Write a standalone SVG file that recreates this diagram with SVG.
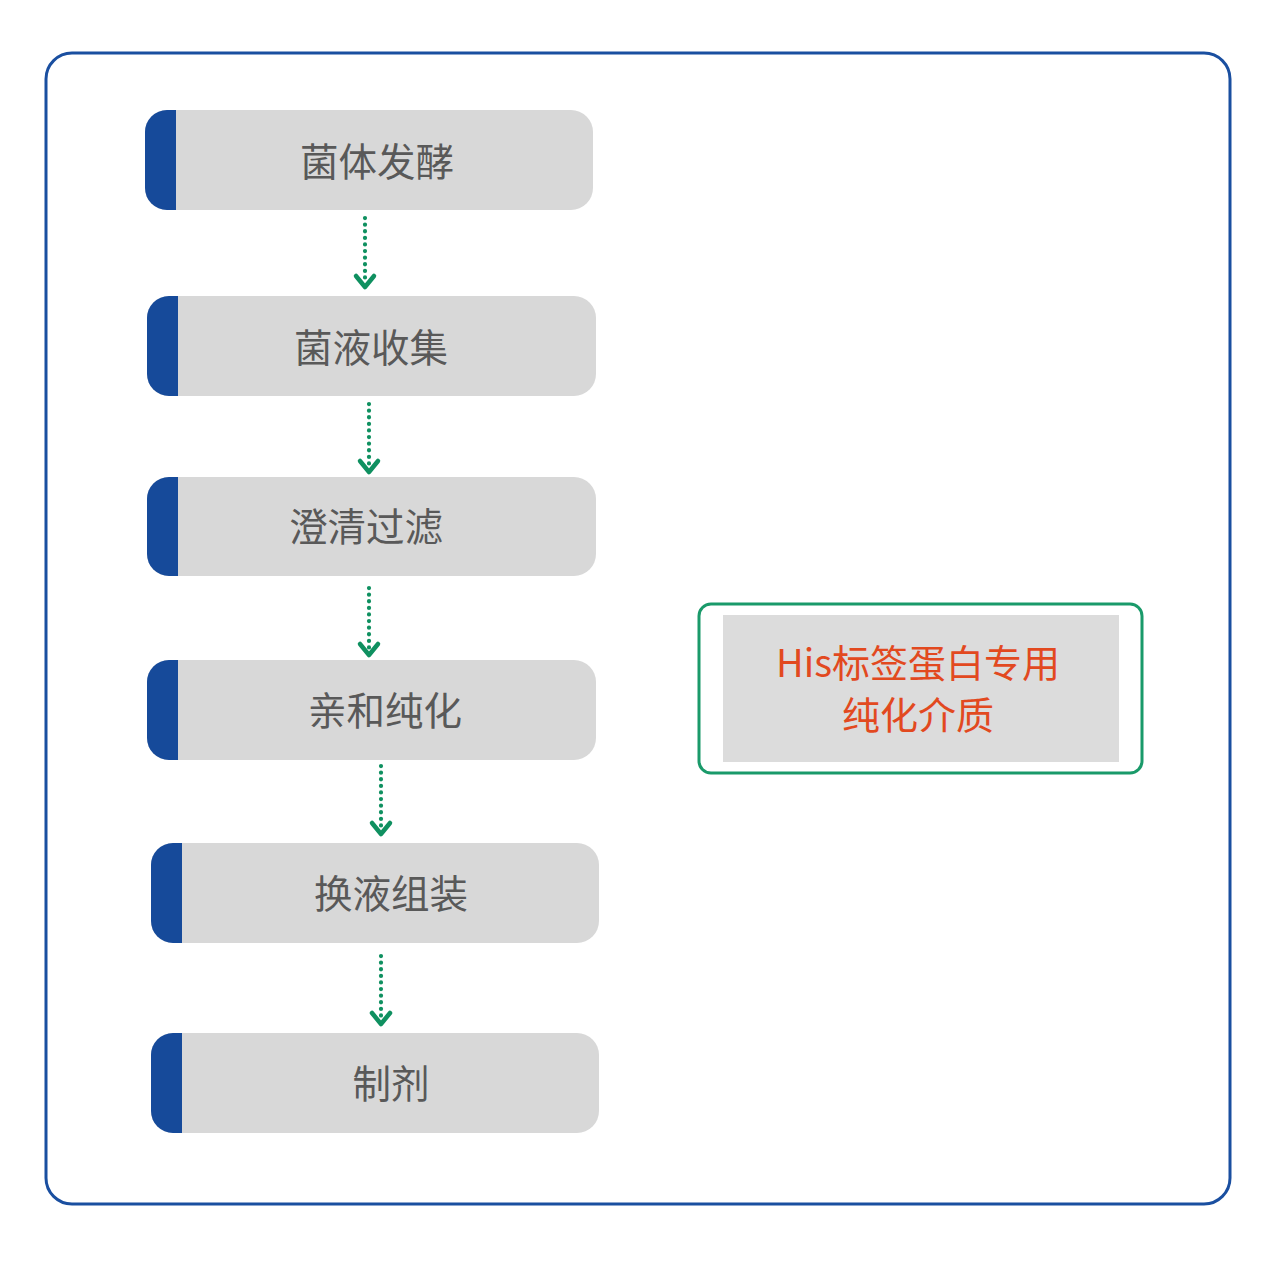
<svg xmlns="http://www.w3.org/2000/svg" width="1280" height="1269" viewBox="0 0 1280 1269">
<defs>
<style>
.box{fill:#d8d8d8}
.bar{fill:#164a9a}
.lbl{font-family:"Noto Sans CJK SC","Noto Sans",sans-serif;font-size:38.5px;fill:#595959;text-anchor:middle;dominant-baseline:central}
.red{font-family:"Noto Sans CJK SC","Noto Sans",sans-serif;font-size:38px;fill:#e2491f;text-anchor:middle}
.dot{stroke:#0f9060;stroke-width:4.2;stroke-dasharray:0.1 6.5;stroke-linecap:round;fill:none}
.head{stroke:#0f9060;stroke-width:4.5;fill:none;stroke-linecap:round;stroke-linejoin:round}
</style>
<clipPath id="c1"><rect x="145" y="110" width="448" height="100" rx="22"/></clipPath>
<clipPath id="c2"><rect x="147" y="296" width="449" height="100" rx="22"/></clipPath>
<clipPath id="c3"><rect x="147" y="477" width="449" height="99" rx="22"/></clipPath>
<clipPath id="c4"><rect x="147" y="660" width="449" height="100" rx="22"/></clipPath>
<clipPath id="c5"><rect x="151" y="843" width="448" height="100" rx="22"/></clipPath>
<clipPath id="c6"><rect x="151" y="1033" width="448" height="100" rx="22"/></clipPath>
</defs>
<rect width="1280" height="1269" fill="#ffffff"/>
<rect x="46" y="53" width="1184" height="1151" rx="26" fill="none" stroke="#1a4fa0" stroke-width="3"/>
<g id="n1"><g clip-path="url(#c1)"><rect class="box" x="145" y="110" width="448" height="100"/><rect class="bar" x="145" y="110" width="31" height="100"/></g><text class="lbl" x="377" y="159">菌体发酵</text></g>
<g id="n2"><g clip-path="url(#c2)"><rect class="box" x="147" y="296" width="449" height="100"/><rect class="bar" x="147" y="296" width="31" height="100"/></g><text class="lbl" x="371" y="345">菌液收集</text></g>
<g id="n3"><g clip-path="url(#c3)"><rect class="box" x="147" y="477" width="449" height="99"/><rect class="bar" x="147" y="477" width="31" height="99"/></g><text class="lbl" x="366" y="524">澄清过滤</text></g>
<g id="n4"><g clip-path="url(#c4)"><rect class="box" x="147" y="660" width="449" height="100"/><rect class="bar" x="147" y="660" width="31" height="100"/></g><text class="lbl" x="385" y="708">亲和纯化</text></g>
<g id="n5"><g clip-path="url(#c5)"><rect class="box" x="151" y="843" width="448" height="100"/><rect class="bar" x="151" y="843" width="31" height="100"/></g><text class="lbl" x="391" y="891">换液组装</text></g>
<g id="n6"><g clip-path="url(#c6)"><rect class="box" x="151" y="1033" width="448" height="100"/><rect class="bar" x="151" y="1033" width="31" height="100"/></g><text class="lbl" x="391" y="1081">制剂</text></g>
<g id="n7"><rect x="699" y="604" width="443" height="169" rx="12" fill="#ffffff" stroke="#1a9a6a" stroke-width="3"/><rect x="723" y="615" width="396" height="147" fill="#dcdcdc"/><text class="red" x="918" y="677">His标签蛋白专用</text><text class="red" x="918" y="729">纯化介质</text></g>
<g id="connectors">
<path class="dot" d="M365 218V282"/><path class="head" d="M356 276L365 287L374 276"/>
<path class="dot" d="M369 404V467"/><path class="head" d="M360 461L369 472L378 461"/>
<path class="dot" d="M369 588V650"/><path class="head" d="M360 644L369 655L378 644"/>
<path class="dot" d="M381 766V829"/><path class="head" d="M372 823L381 834L390 823"/>
<path class="dot" d="M381 956V1019"/><path class="head" d="M372 1013L381 1024L390 1013"/>
</g>
</svg>
